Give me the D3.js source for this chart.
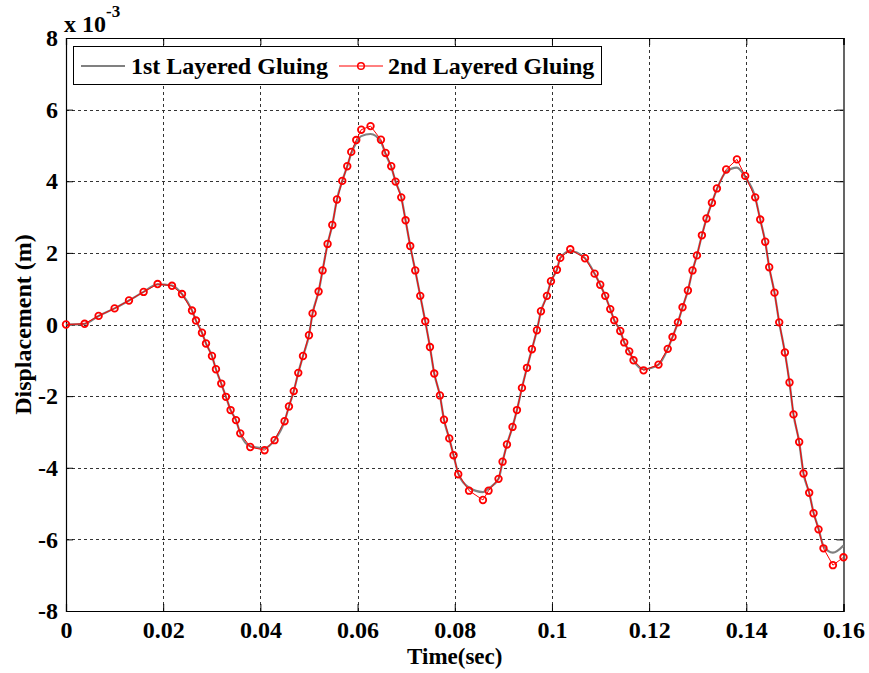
<!DOCTYPE html>
<html>
<head>
<meta charset="utf-8">
<script src="https://cdn.jsdelivr.net/npm/d3@7"></script>
<style>
html,body{margin:0;padding:0;background:#fff;}
svg text{font-family:"Liberation Serif","Times New Roman",serif;font-weight:bold;fill:#000;}
</style>
</head>
<body>
<svg id="chart" width="869" height="673"></svg>
<script>
// ---- data ----
const timeSec = [0, 0.00383, 0.00671, 0.0100, 0.01296, 0.01597, 0.01885, 0.02181, 0.02387, 0.02593,
  0.02675, 0.02798, 0.02881, 0.03004, 0.03086, 0.03195, 0.03292, 0.03387, 0.03498, 0.03586,
  0.03792, 0.04086, 0.04292, 0.04498, 0.04588, 0.04687, 0.0478, 0.04877, 0.05, 0.05074,
  0.05198, 0.0528, 0.05383, 0.0548, 0.05576, 0.05685, 0.05788, 0.0587, 0.05973, 0.06076,
  0.06267, 0.06481, 0.06576, 0.06693, 0.06782, 0.06899, 0.06988, 0.07084, 0.07187, 0.0729,
  0.07393, 0.0749, 0.07578, 0.07695, 0.07778, 0.07887, 0.07975, 0.08072, 0.08294, 0.0858,
  0.08695, 0.08901, 0.08984, 0.09074, 0.09189, 0.0928, 0.09383, 0.09486, 0.09588, 0.09691,
  0.09774, 0.09897, 0.0998, 0.10103, 0.10171, 0.10377, 0.1068, 0.10878, 0.10994, 0.11097,
  0.112, 0.11282, 0.11406, 0.11488, 0.11591, 0.11679, 0.11885, 0.12193, 0.12383, 0.12481,
  0.12593, 0.12687, 0.12798, 0.12893, 0.12984, 0.13086, 0.13181, 0.13292, 0.13395, 0.13586,
  0.13807, 0.13977, 0.14183, 0.14286, 0.14389, 0.14471, 0.1458, 0.14677, 0.14794, 0.14889,
  0.14971, 0.15088, 0.15177, 0.15294, 0.15383, 0.15486, 0.15588, 0.15782, 0.16];

// 2nd Layered Gluing (red, markers), units of 1e-3 m
const secondGluing = [0, 0.02, 0.24, 0.45, 0.67, 0.91, 1.13, 1.08, 0.85, 0.39,
  0.11, -0.23, -0.53, -0.88, -1.25, -1.65, -2.02, -2.39, -2.67, -3.04,
  -3.42, -3.51, -3.23, -2.70, -2.29, -1.86, -1.35, -0.88, -0.30, 0.31,
  0.92, 1.51, 2.25, 2.78, 3.49, 4.01, 4.42, 4.82, 5.15, 5.44,
  5.54, 5.16, 4.79, 4.42, 3.99, 3.55, 2.91, 2.19, 1.51, 0.80,
  0.09, -0.63, -1.37, -1.98, -2.66, -3.18, -3.65, -4.18, -4.64, -4.90,
  -4.64, -4.31, -3.83, -3.35, -2.86, -2.39, -1.77, -1.21, -0.69, -0.16,
  0.37, 0.80, 1.21, 1.53, 1.86, 2.10, 1.85, 1.42, 1.11, 0.80,
  0.43, 0.12, -0.18, -0.50, -0.75, -1.00, -1.28, -1.12, -0.68, -0.35,
  0.06, 0.48, 0.95, 1.51, 1.93, 2.49, 2.96, 3.40, 3.80, 4.33,
  4.61, 4.15, 3.55, 2.93, 2.31, 1.60, 0.89, 0.06, -0.78, -1.62,
  -2.51, -3.28, -4.16, -4.70, -5.27, -5.72, -6.25, -6.72, -6.50];

// 1st Layered Gluing (grey line), units of 1e-3 m
const firstGluing = [0, 0.02, 0.24, 0.45, 0.67, 0.91, 1.12, 1.09, 0.85, 0.39,
  0.11, -0.23, -0.53, -0.88, -1.25, -1.65, -2.02, -2.39, -2.67, -3.04,
  -3.40, -3.45, -3.23, -2.70, -2.29, -1.86, -1.35, -0.88, -0.30, 0.31,
  0.92, 1.51, 2.25, 2.78, 3.49, 4.01, 4.42, 4.78, 5.08, 5.26,
  5.32, 5.10, 4.76, 4.40, 3.99, 3.55, 2.91, 2.19, 1.51, 0.80,
  0.09, -0.63, -1.37, -1.98, -2.66, -3.18, -3.65, -4.16, -4.56, -4.68,
  -4.58, -4.31, -3.83, -3.35, -2.86, -2.39, -1.77, -1.21, -0.69, -0.16,
  0.37, 0.80, 1.21, 1.53, 1.86, 2.05, 1.85, 1.42, 1.11, 0.80,
  0.43, 0.12, -0.18, -0.50, -0.75, -1.00, -1.25, -1.12, -0.68, -0.35,
  0.06, 0.48, 0.95, 1.51, 1.93, 2.49, 2.96, 3.40, 3.78, 4.27,
  4.38, 4.12, 3.55, 2.93, 2.31, 1.60, 0.89, 0.06, -0.78, -1.62,
  -2.51, -3.28, -4.16, -4.70, -5.25, -5.70, -6.18, -6.37, -6.17];

const xTicks = [0, 0.02, 0.04, 0.06, 0.08, 0.1, 0.12, 0.14, 0.16];
const xTickLabels = ["0", "0.02", "0.04", "0.06", "0.08", "0.1", "0.12", "0.14", "0.16"];
const yTicks = [-8, -6, -4, -2, 0, 2, 4, 6, 8];
const yTickLabels = ["-8", "-6", "-4", "-2", "0", "2", "4", "6", "8"];
const seriesNames = ["1st Layered Gluing", "2nd Layered Gluing"];

// ---- layout ----
const FONT = '"Liberation Serif","Times New Roman",serif';
const L = 66, R = 843.5, T = 38, B = 611;
const svg = d3.select("#chart");
const x = d3.scaleLinear().domain([0, 0.16]).range([L, R]);
const y = d3.scaleLinear().domain([-8, 8]).range([B, T]);

// grid
const grid = svg.append("g").attr("stroke", "#333").attr("stroke-width", 1).attr("stroke-dasharray", "3,3");
grid.selectAll(".gx").data(xTicks.slice(1, -1)).enter().append("line")
  .attr("x1", d => Math.round(x(d)) + 0.5).attr("x2", d => Math.round(x(d)) + 0.5)
  .attr("y1", T).attr("y2", B);
grid.selectAll(".gy").data(yTicks.slice(1, -1)).enter().append("line")
  .attr("y1", d => Math.round(y(d)) + 0.5).attr("y2", d => Math.round(y(d)) + 0.5)
  .attr("x1", L).attr("x2", R);

// axes (inward ticks, MATLAB-like)
const tickLen = 7;
const xAxisB = d3.axisBottom(x).tickValues(xTicks).tickSize(-tickLen).tickFormat((d, i) => xTickLabels[i]).tickPadding(11);
const xAxisT = d3.axisTop(x).tickValues(xTicks).tickSize(-tickLen).tickFormat("");
const yAxisL = d3.axisLeft(y).tickValues(yTicks).tickSize(-tickLen).tickFormat((d, i) => yTickLabels[i]).tickPadding(8);
const yAxisR = d3.axisRight(y).tickValues(yTicks).tickSize(-tickLen).tickFormat("");

function styleAxis(g) {
  g.attr("font-family", FONT).attr("font-size", 24);
  g.select(".domain").attr("stroke", "#000").attr("stroke-width", 1.2);
  g.selectAll(".tick line").attr("stroke", "#000").attr("stroke-width", 1);
  g.selectAll(".tick text").attr("font-size", 24).style("font-family", FONT)
    .style("font-weight", "bold").attr("fill", "#000");
}
svg.append("g").attr("transform", `translate(0,${B})`).call(xAxisB).call(styleAxis)
  .selectAll(".tick text").attr("dy", "0.65em");
svg.append("g").attr("transform", `translate(0,${T})`).call(xAxisT).call(styleAxis);
svg.append("g").attr("transform", `translate(${L},0)`).call(yAxisL).call(styleAxis);
svg.append("g").attr("transform", `translate(${R},0)`).call(yAxisR).call(styleAxis);

// series
const ptsFirst = timeSec.map((t, i) => [t, firstGluing[i]]);
const ptsSecond = timeSec.map((t, i) => [t, secondGluing[i]]);

svg.append("path").datum(ptsFirst)
  .attr("fill", "none").attr("stroke", "#808080").attr("stroke-width", 2.2)
  .attr("d", d3.line().x(d => x(d[0])).y(d => y(d[1])).curve(d3.curveMonotoneX));

svg.append("path").datum(ptsSecond)
  .attr("fill", "none").attr("stroke", "#ff0000").attr("stroke-width", 1)
  .attr("d", d3.line().x(d => x(d[0])).y(d => y(d[1])));

svg.append("g").selectAll("circle").data(ptsSecond).enter().append("circle")
  .attr("cx", d => x(d[0])).attr("cy", d => y(d[1])).attr("r", 3.3)
  .attr("fill", "none").attr("stroke", "#ff0000").attr("stroke-width", 1.8);

// exponent label
const ex = svg.append("text").attr("x", 64).attr("y", 32).attr("font-size", 24);
ex.append("tspan").text("x 10");
ex.append("tspan").attr("font-size", 17).attr("dy", -15).text("-3");

// axis titles
svg.append("text").attr("x", (L + R) / 2).attr("y", 664).attr("text-anchor", "middle")
  .attr("font-size", 23).text("Time(sec)");
svg.append("text").attr("transform", `translate(31,${(T + B) / 2}) rotate(-90)`)
  .attr("text-anchor", "middle").attr("font-size", 24).text("Displacement (m)");

// legend
const lg = svg.append("g");
lg.append("rect").attr("x", 73.5).attr("y", 46.5).attr("width", 528).attr("height", 38)
  .attr("fill", "#fff").attr("stroke", "#000").attr("stroke-width", 1);
lg.append("line").attr("x1", 81).attr("x2", 125).attr("y1", 66).attr("y2", 66)
  .attr("stroke", "#808080").attr("stroke-width", 2);
lg.append("text").attr("x", 131).attr("y", 74).attr("font-size", 24).text(seriesNames[0]);
lg.append("line").attr("x1", 339).attr("x2", 383).attr("y1", 66).attr("y2", 66)
  .attr("stroke", "#ff0000").attr("stroke-width", 1);
lg.append("circle").attr("cx", 361).attr("cy", 66).attr("r", 3.3)
  .attr("fill", "none").attr("stroke", "#ff0000").attr("stroke-width", 1.5);
lg.append("text").attr("x", 388).attr("y", 74).attr("font-size", 24).text(seriesNames[1]);
</script>
</body>
</html>
